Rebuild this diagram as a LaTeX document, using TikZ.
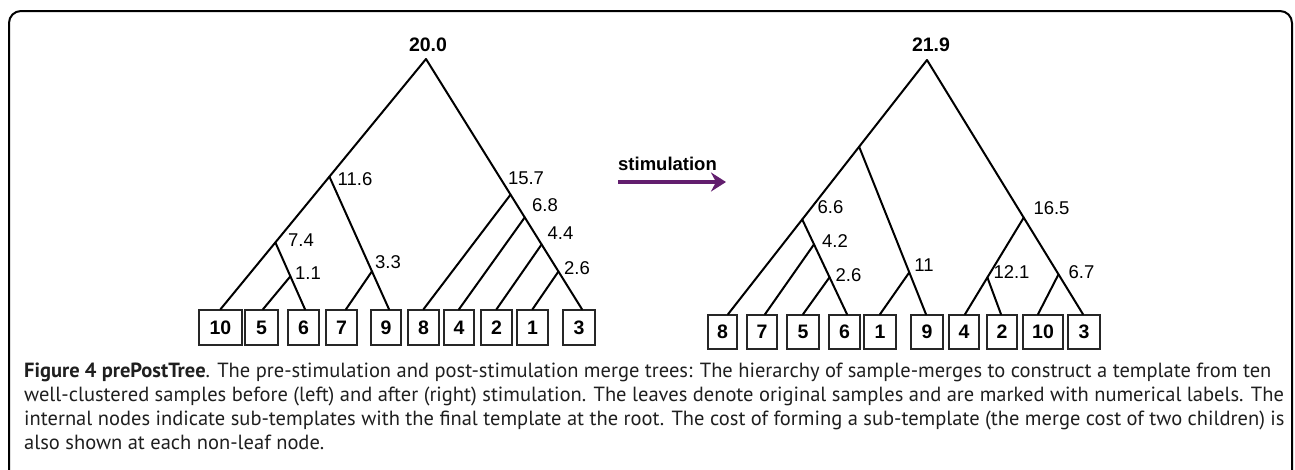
\documentclass[tikz,border=0pt]{standalone}
\usepackage{fontspec}
\setmainfont{Liberation Sans}
\newfontfamily\capfont{PT Sans}
\usetikzlibrary{calc,arrows.meta}
\definecolor{stimpurple}{RGB}{98,30,110}
\tikzset{
  treeline/.style={line width=2pt, line cap=round},
  leafbox/.style={draw=black!85, line width=1.5pt, minimum height=35pt, minimum width=31pt, inner sep=0pt,
    font=\fontsize{19.5}{22}\selectfont\bfseries},
  costlbl/.style={inner sep=0pt, font=\fontsize{18.5}{22}\selectfont},
  rootlbl/.style={inner sep=0pt, font=\fontsize{19.5}{22}\selectfont\bfseries},
  capline/.style={anchor=base west, inner sep=0pt, text=black!88, font=\capfont\fontsize{20.5}{24}\selectfont},
}
\begin{document}
\begin{tikzpicture}[x=1pt,y=-1pt]
\clip (0,0) rectangle (1295,469);
\useasboundingbox (0,0) rectangle (1295,469);
% frame
\draw[line width=2pt, rounded corners=12pt] (9,11) rectangle (1292,520);

% ---------- left tree ----------
\node[leafbox, minimum width=43pt] (L10) at (220.5,327.5) {10};
\node[leafbox, minimum width=33pt] (L5) at (261.5,327.5) {5};
\node[leafbox] (L6) at (303.5,327.5) {6};
\node[leafbox] (L7) at (341.5,327.5) {7};
\node[leafbox, minimum width=30pt] (L9) at (386,327.5) {9};
\node[leafbox] (L8) at (423.5,327.5) {8};
\node[leafbox, minimum width=30pt] (L4) at (459,327.5) {4};
\node[leafbox] (L2) at (496.5,327.5) {2};
\node[leafbox] (L1) at (532.5,327.5) {1};
\node[leafbox, minimum width=32pt] (L3) at (579,327.5) {3};

\coordinate (LR) at (426,59);
\coordinate (tL10) at (L10.north);
\coordinate (tL5) at ([xshift=1.5pt]L5.north);
\coordinate (tL6) at ([xshift=1.5pt]L6.north);
\coordinate (tL7) at ([xshift=4.5pt]L7.north);
\coordinate (tL9) at ([xshift=3pt]L9.north);
\coordinate (tL8) at (L8.north);
\coordinate (tL4) at (L4.north);
\coordinate (tL2) at (L2.north);
\coordinate (tL1) at (L1.north);
\coordinate (tL3) at ([xshift=3pt]L3.north);

\coordinate (n116) at ($(LR)!0.47!(tL10)$);
\coordinate (n74) at ($(LR)!0.733!(tL10)$);
\coordinate (n33) at ($(n116)!0.714!(tL9)$);
\coordinate (n11) at ($(n74)!0.507!(tL6)$);
\coordinate (n157) at ($(LR)!0.542!(tL3)$);
\coordinate (n68) at ($(LR)!0.633!(tL3)$);
\coordinate (n44) at ($(LR)!0.741!(tL3)$);
\coordinate (n26) at ($(LR)!0.849!(tL3)$);

\draw[treeline] (LR) -- (tL10);
\draw[treeline] (n116) -- (tL9);
\draw[treeline] (n33) -- (tL7);
\draw[treeline] (n74) -- (tL6);
\draw[treeline] (n11) -- (tL5);
\draw[treeline] (LR) -- (tL3);
\draw[treeline] (n157) -- (tL8);
\draw[treeline] (n68) -- (tL4);
\draw[treeline] (n44) -- (tL2);
\draw[treeline] (n26) -- (tL1);

\node[rootlbl] (lLR) at (428,45) {20.0};
\node[costlbl] (l116) at (355,179) {11.6};
\node[costlbl] (l74) at (301,240) {7.4};
\node[costlbl] (l11) at (308,273.5) {1.1};
\node[costlbl] (l33) at (388,262.5) {3.3};
\node[costlbl] (l157) at (526,178.5) {15.7};
\node[costlbl] (l68) at (545,205) {6.8};
\node[costlbl] (l44) at (560.5,233.5) {4.4};
\node[costlbl] (l26) at (577,268.5) {2.6};

% ---------- arrow ----------
\node[inner sep=0pt, font=\fontsize{18.5}{22}\selectfont\bfseries] (stim) at (667.5,163.5) {stimulation};
\coordinate (sa) at (618,182);
\coordinate (sb) at (726,182);
\draw[stimpurple, line width=4pt, -{Stealth[length=15pt,width=19pt,inset=5pt]}] (sa) -- (sb);

% ---------- right tree ----------
\node[leafbox, minimum height=34pt, minimum width=29pt] (R8) at (722.5,332) {8};
\node[leafbox, minimum height=34pt, minimum width=30pt] (R7) at (762,332) {7};
\node[leafbox, minimum height=34pt, minimum width=32pt] (R5) at (803,332) {5};
\node[leafbox, minimum height=34pt] (R6) at (844.5,332) {6};
\node[leafbox, minimum height=34pt, minimum width=32pt] (R1) at (880,332) {1};
\node[leafbox, minimum height=34pt, minimum width=32pt] (R9) at (927,332) {9};
\node[leafbox, minimum height=34pt, minimum width=30pt] (R4) at (964,332) {4};
\node[leafbox, minimum height=34pt, minimum width=30pt] (R2) at (1002,332) {2};
\node[leafbox, minimum height=34pt, minimum width=40pt] (R10) at (1043,332) {10};
\node[leafbox, minimum height=34pt, minimum width=32pt] (R3) at (1084,332) {3};

\coordinate (RR) at (927,60);
\coordinate (tR8) at ([xshift=5.5pt]R8.north);
\coordinate (tR7) at ([xshift=3pt]R7.north);
\coordinate (tR5) at (R5.north);
\coordinate (tR6) at ([xshift=2.5pt]R6.north);
\coordinate (tR1) at (R1.north);
\coordinate (tR9) at ([xshift=-1pt]R9.north);
\coordinate (tR4) at ([xshift=1pt]R4.north);
\coordinate (tR2) at ([xshift=-1pt]R2.north);
\coordinate (tR10) at ([xshift=-5pt]R10.north);
\coordinate (tR3) at ([xshift=-1pt]R3.north);

\coordinate (nA) at ($(RR)!0.341!(tR8)$);
\coordinate (n66) at ($(RR)!0.627!(tR8)$);
\coordinate (n11r) at ($(nA)!0.75!(tR9)$);
\coordinate (n42) at ($(n66)!0.263!(tR6)$);
\coordinate (n26r) at ($(n66)!0.61!(tR6)$);
\coordinate (n165) at ($(RR)!0.62!(tR3)$);
\coordinate (n67) at ($(RR)!0.843!(tR3)$);
\coordinate (n121) at ($(n165)!0.619!(tR4)$);

\draw[treeline] (RR) -- (tR8);
\draw[treeline] (nA) -- (tR9);
\draw[treeline] (n11r) -- (tR1);
\draw[treeline] (n66) -- (tR6);
\draw[treeline] (n42) -- (tR7);
\draw[treeline] (n26r) -- (tR5);
\draw[treeline] (RR) -- (tR3);
\draw[treeline] (n165) -- (tR4);
\draw[treeline] (n121) -- (tR2);
\draw[treeline] (n67) -- (tR10);

\node[rootlbl] (lRR) at (931,45) {21.9};
\node[costlbl] (l66) at (830.5,207) {6.6};
\node[costlbl] (l42) at (835,241.5) {4.2};
\node[costlbl] (l26r) at (848.5,275) {2.6};
\node[costlbl] (l11r) at (924,265) {11};
\node[costlbl] (l165) at (1051.5,208.5) {16.5};
\node[costlbl] (l121) at (1011.5,272) {12.1};
\node[costlbl] (l67) at (1081.5,272) {6.7};

% ---------- caption ----------
\node[capline] (c1) at (24,377) {\textbf{Figure 4 prePostTree}. The pre-stimulation and post-stimulation merge trees: The hierarchy of sample-merges to construct a template from ten};
\node[capline] (c2) at (24,401) {well-clustered samples before (left) and after (right) stimulation. The leaves denote original samples and are marked with numerical labels. The};
\node[capline] (c3) at (24,425) {internal nodes indicate sub-templates with the final template at the root. The cost of forming a sub-template (the merge cost of two children) is};
\node[capline] (c4) at (24,449) {also shown at each non-leaf node.};
\end{tikzpicture}
\end{document}
